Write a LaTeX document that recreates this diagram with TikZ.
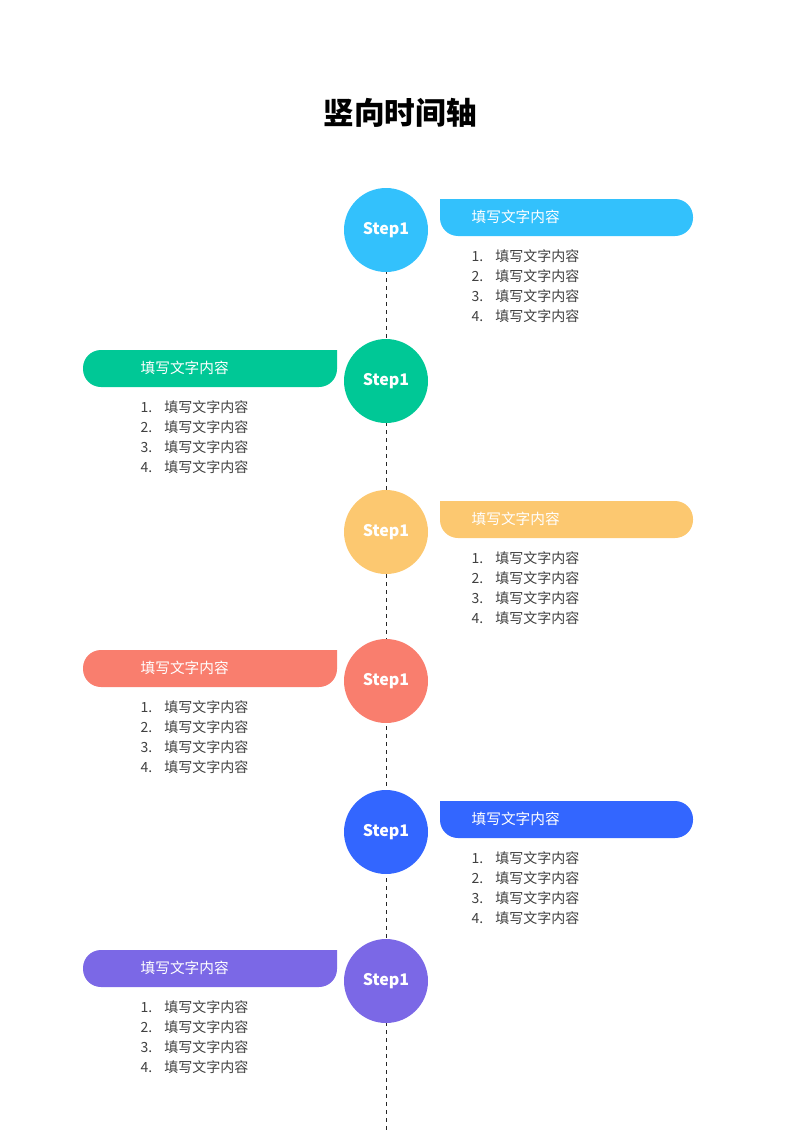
\documentclass[tikz,border=0pt]{standalone}
\usepackage{fontspec}
\setmainfont{Noto Sans CJK SC}
\definecolor{cA}{HTML}{33C1FC}
\definecolor{cB}{HTML}{00C896}
\definecolor{cC}{HTML}{FCC870}
\definecolor{cD}{HTML}{F97E6E}
\definecolor{cE}{HTML}{3366FF}
\definecolor{cF}{HTML}{7B68E6}
\definecolor{txt}{HTML}{404040}
\tikzset{
    stepdot/.style={circle,minimum size=63pt,inner sep=0pt,text=white,font=\bfseries\fontsize{12}{14}\selectfont},
    bantext/.style={text=white,anchor=west,font=\fontsize{11}{13}\selectfont},
    itemtext/.style={text=txt,anchor=west,font=\fontsize{10.5}{12}\selectfont}
}
\begin{document}
\begin{tikzpicture}[x=0.75pt,y=-0.75pt]
        \useasboundingbox (0,0) rectangle (800,1131);

        % Titel
        \node[font=\bfseries\fontsize{23}{27}\selectfont] (title) at (400,113) {竖向时间轴};

        % Achse
        \draw[dashed,gray!30!black,thin] (386,230) -- (386,1131);

        \foreach \y/\c/\s [count=\k] in {230/cA/1,381/cB/-1,532/cC/1,681/cD/-1,832/cE/1,981/cF/-1} {
            \node[stepdot,fill=\c] (s\k) at (386,\y) {Step1};
            \ifnum\s=1
                % rechts
                \fill[\c] (440,\y-31) [rounded corners=13.5pt] -- (693,\y-31) -- (693,\y+6) -- (440,\y+6) [sharp corners] -- cycle;
                \node[bantext] (b\k) at (467,\y-13) {填写文字内容};
                \foreach \j in {1,...,4} {
                    \node[itemtext] (i\k\j) at (467,{\y+6+20*\j}) {\j.\hspace{9pt}填写文字内容};
                }
            \else
                % links
                \fill[\c] (337,\y-31) [rounded corners=13.5pt] -- (337,\y+6) -- (83,\y+6) -- (83,\y-31) [sharp corners] -- cycle;
                \node[bantext] (b\k) at (136,\y-13) {填写文字内容};
                \foreach \j in {1,...,4} {
                    \node[itemtext] (i\k\j) at (136,{\y+6+20*\j}) {\j.\hspace{9pt}填写文字内容};
                }
            \fi
        }
    \end{tikzpicture}
\end{document}
